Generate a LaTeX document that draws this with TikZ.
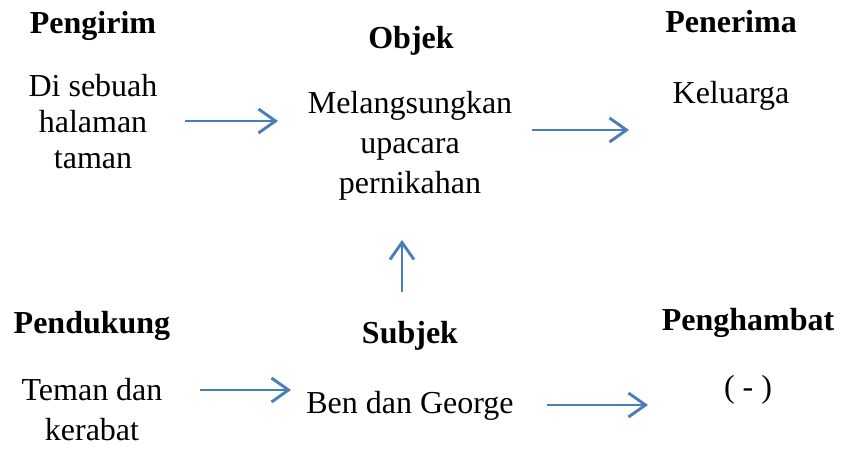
\documentclass[tikz,border=0pt]{standalone}
\usepackage{fontspec}
\setmainfont{Liberation Serif}
\usetikzlibrary{arrows.meta}
\definecolor{arrowblue}{HTML}{4A7EBB}
\tikzset{
  head/.style={font=\fontsize{32}{36}\selectfont\bfseries, inner sep=0pt, anchor=base},
  body/.style={font=\fontsize{32}{38}\selectfont, inner sep=0pt, anchor=base, align=center},
  arr/.style={draw=arrowblue, line width=2.9pt, -{Straight Barb[length=17pt,width=24pt,line width=2.9pt]}}
}
\begin{document}
\begin{tikzpicture}[x=1pt,y=-1pt]
\useasboundingbox (0,0) rectangle (842,448);
% headers
\node[head] (pengirim) at (93,33) {Pengirim};
\node[head] (objek) at (411,48) {Objek};
\node[head] (penerima) at (731,32) {Penerima};
\node[head] (pendukung) at (92,333) {Pendukung};
\node[head] (subjek) at (410,343) {Subjek};
\node[head] (penghambat) at (748,330) {Penghambat};
% contents (base anchor = baseline of the last line)
\node[body, font=\fontsize{32}{36}\selectfont] (tempat) at (93,168) {Di sebuah\\halaman\\taman};
\node[body, font=\fontsize{32}{40}\selectfont] (kegiatan) at (410,193) {Melangsungkan\\upacara\\pernikahan};
\node[body] (keluarga) at (731,103) {Keluarga};
\node[body, font=\fontsize{32}{40}\selectfont] (teman) at (92,440) {Teman dan\\kerabat};
\node[body] (ben) at (410,413) {Ben dan George};
\node[body] (hambat) at (748,397) {( - )};
% arrow ends
\coordinate (a1s) at (185,121); \coordinate (a1e) at (278,121);
\coordinate (a2s) at (532,130); \coordinate (a2e) at (629,130);
\coordinate (a3s) at (402,292); \coordinate (a3e) at (402,240);
\coordinate (a4s) at (200,390); \coordinate (a4e) at (291,390);
\coordinate (a5s) at (547,405); \coordinate (a5e) at (648,405);
\draw[arr] (a1s) -- (a1e);
\draw[arr] (a2s) -- (a2e);
\draw[arr] (a3s) -- (a3e);
\draw[arr] (a4s) -- (a4e);
\draw[arr] (a5s) -- (a5e);
\end{tikzpicture}
\end{document}
